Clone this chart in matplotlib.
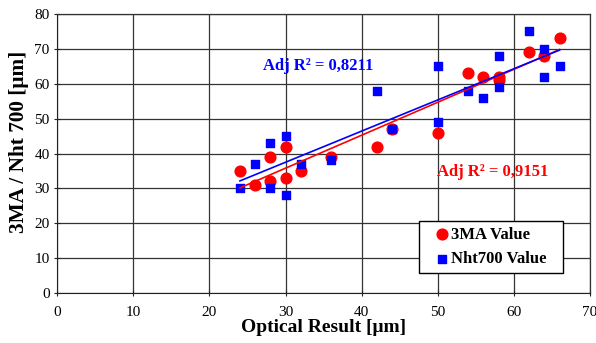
import numpy as np
import matplotlib
matplotlib.use('Agg')
from matplotlib import pyplot as plt

plt.rcParams['font.family'] = ['Liberation Serif', 'DejaVu Serif']

# 3MA measurements vs optical result
x_3ma = [24, 26, 28, 28, 30, 30, 32, 36, 42, 44, 50, 54, 56, 58, 58, 62, 64, 66]
y_3ma = [35, 31, 39, 32, 42, 33, 35, 39, 42, 47, 46, 63, 62, 62, 61, 69, 68, 73]

# Nht700 measurements vs optical result
x_nht = [24, 26, 28, 28, 30, 30, 32, 36, 42, 44, 50, 50, 54, 56, 58, 58, 62, 64, 64, 66]
y_nht = [30, 37, 43, 30, 45, 28, 37, 38, 58, 47, 65, 49, 58, 56, 68, 59, 75, 70, 62, 65]

r2_3ma = '0,9151'
r2_nht = '0,8211'


def trend(x, y):
    x = np.asarray(x, float)
    y = np.asarray(y, float)
    k, d = np.polyfit(x, y, 1)
    xs = np.array([x.min(), x.max()])
    return xs, k * xs + d


fig = plt.figure(figsize=(5.96, 3.43), dpi=100)
ax = fig.add_axes([0.0961, 0.1458, 0.8939, 0.8132])

ax.scatter(x_3ma, y_3ma, s=60, marker='o', color='#ff0000', label='3MA Value', zorder=3)
ax.scatter(x_nht, y_nht, s=28, marker='s', color='#0000ff', label='Nht700 Value', zorder=3)

xs, ys = trend(x_3ma, y_3ma)
ax.plot(xs, ys, color='#ff0000', lw=1.2, zorder=4)
xs, ys = trend(x_nht, y_nht)
ax.plot(xs, ys, color='#0000ff', lw=1.2, zorder=4)

ax.text(27.0, 65.2, 'Adj R² = ' + r2_nht, color='#0000ff', fontsize=12,
        fontweight='bold', va='center', ha='left')
ax.text(49.9, 34.8, 'Adj R² = ' + r2_3ma, color='#ff0000', fontsize=12,
        fontweight='bold', va='center', ha='left')

ax.set_xlim(0, 70)
ax.set_ylim(0, 80)
ax.set_xticks(range(0, 71, 10))
ax.set_yticks(range(0, 81, 10))
ax.grid(True, color='#333333', lw=0.9)
ax.set_axisbelow(True)
for side in ['top', 'right']:
    ax.spines[side].set_color('#333333')
    ax.spines[side].set_linewidth(0.9)
for side in ['left', 'bottom']:
    ax.spines[side].set_color('#222222')
ax.tick_params(direction='inout', length=5, labelsize=11, color='#222222')
ax.tick_params(axis='x', pad=7)
ax.tick_params(axis='y', pad=3)

ax.set_xlabel('Optical Result [μm]', fontsize=14, fontweight='bold', labelpad=0)
ax.set_ylabel('3MA / Nht 700 [μm]', fontsize=15.3, fontweight='bold')
ax.yaxis.set_label_coords(-0.054, 0.543)

leg = ax.legend(loc='lower right', bbox_to_anchor=(0.93, 0.072), frameon=True,
                fancybox=False, edgecolor='black', framealpha=1,
                prop={'weight': 'bold', 'size': 12}, handletextpad=0.11,
                borderpad=0.35, labelspacing=0.5, handlelength=0.86,
                borderaxespad=0)
# wider padding left/right than top/bottom
frame = leg.get_frame()
frame.set_linewidth(1.0)
frame.set_boxstyle('square', pad=0.6)
frame.set_mutation_aspect(0.001)

fig.savefig('out.png', dpi=100)
